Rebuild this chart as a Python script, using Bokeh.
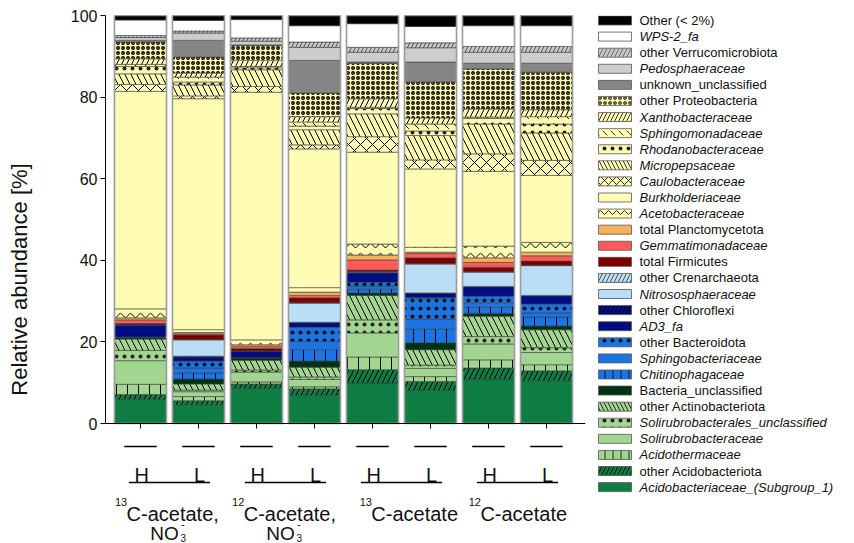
import numpy as np
from bokeh.plotting import figure
from bokeh.models import ColumnDataSource, Range1d, FixedTicker
from bokeh.layouts import row
from bokeh.embed import file_html
from bokeh.resources import INLINE
from bokeh.core.properties import value, field

# ---------------- data ----------------
bar_x = [1, 2, 3, 4, 5, 6, 7, 8]
fraction_labels = ["H", "L", "H", "L", "H", "L", "H", "L"]
group_sup = ["13", "12", "13", "12"]
group_main = ["C-acetate,", "C-acetate,", "C-acetate", "C-acetate"]
group_nitrate = [True, True, False, False]

acidobacteriaceae = [5.9, 4.6, 8.6, 6.9, 9.9, 8.1, 10.9, 10.5]
other_acidobacteriota = [1.2, 1.0, 1.1, 1.6, 3.3, 2.2, 2.7, 2.4]
acidothermaceae = [2.5, 1.0, 0.5, 0.5, 3.1, 1.2, 2.0, 1.5]
solirubrobacteraceae = [5.8, 1.2, 2.4, 1.8, 5.9, 2.0, 3.9, 3.0]
solirubrobacterales_unc = [2.5, 0.4, 0.5, 0.6, 3.2, 0.8, 1.8, 1.2]
other_actinobacteriota = [2.8, 1.5, 2.4, 2.4, 6.0, 3.8, 5.0, 4.4]
bacteria_unc = [0.4, 1.2, 0.6, 1.5, 0.6, 1.7, 0.7, 0.9]
chitinophagaceae = [0.0, 1.5, 0.0, 2.8, 1.0, 3.4, 1.6, 2.2]
sphingobacteriaceae = [0.0, 1.2, 0.0, 2.0, 0.7, 2.4, 1.0, 1.0]
other_bacteroidota = [0.1, 1.7, 0.1, 3.5, 0.9, 5.2, 1.6, 2.2]
ad3_fa = [2.9, 1.0, 1.5, 1.1, 2.3, 1.1, 2.3, 2.0]
other_chloroflexi = [0.3, 0.2, 0.1, 0.1, 0.2, 0.1, 0.1, 0.1]
nitrososphaeraceae = [0.0, 4.0, 0.0, 4.7, 0.2, 7.1, 3.5, 7.3]
other_crenarchaeota = [0.0, 0.1, 0.0, 0.1, 0.0, 0.1, 0.1, 0.1]
total_firmicutes = [0.1, 1.1, 0.6, 1.2, 0.3, 1.4, 1.1, 1.0]
gemmatimonadaceae = [0.9, 0.3, 0.5, 0.6, 2.5, 1.1, 1.2, 1.3]
total_planctomycetota = [0.5, 0.3, 0.4, 0.8, 1.2, 0.3, 1.1, 0.9]
acetobacteraceae = [2.2, 0.7, 1.2, 1.1, 2.7, 1.2, 2.9, 2.4]
burkholderiaceae = [53.3, 56.6, 60.7, 34.0, 22.5, 19.2, 18.3, 16.4]
caulobacteraceae = [1.7, 0.7, 1.4, 1.0, 3.8, 2.2, 4.3, 3.7]
micropepsaceae = [2.6, 2.7, 4.1, 3.7, 5.6, 6.0, 7.3, 6.7]
rhodanobacteraceae = [1.8, 0.7, 0.5, 0.9, 1.3, 1.1, 1.4, 2.2]
sphingomonadaceae = [0.5, 1.2, 0.3, 1.0, 0.3, 1.7, 0.3, 1.8]
xanthobacteraceae = [1.4, 1.0, 1.5, 1.3, 2.1, 1.5, 2.0, 1.7]
other_proteobacteria = [4.1, 3.9, 3.6, 5.8, 8.7, 8.8, 9.8, 9.2]
unknown_unclassified = [0.4, 4.1, 0.2, 8.0, 0.3, 4.9, 1.4, 2.2]
pedosphaeraceae = [0.7, 1.8, 0.9, 3.2, 2.4, 3.5, 2.7, 2.7]
other_verrucomicrobiota = [0.5, 0.5, 0.8, 1.3, 1.2, 1.2, 1.4, 1.4]
wps2_fa = [3.8, 2.6, 4.5, 4.0, 5.8, 4.0, 5.1, 5.1]
other_lt2 = [1.1, 1.2, 1.0, 2.5, 2.0, 2.7, 2.5, 2.5]

# (key, values, legend label, italic) bottom -> top
series = [
    ("acidobacteriaceae", acidobacteriaceae, "Acidobacteriaceae_(Subgroup_1)", True),
    ("other_acidobacteriota", other_acidobacteriota, "other Acidobacteriota", False),
    ("acidothermaceae", acidothermaceae, "Acidothermaceae", True),
    ("solirubrobacteraceae", solirubrobacteraceae, "Solirubrobacteraceae", True),
    ("solirubrobacterales_unc", solirubrobacterales_unc, "Solirubrobacterales_unclassified", True),
    ("other_actinobacteriota", other_actinobacteriota, "other Actinobacteriota", False),
    ("bacteria_unc", bacteria_unc, "Bacteria_unclassified", False),
    ("chitinophagaceae", chitinophagaceae, "Chitinophagaceae", True),
    ("sphingobacteriaceae", sphingobacteriaceae, "Sphingobacteriaceae", True),
    ("other_bacteroidota", other_bacteroidota, "other Bacteroidota", False),
    ("ad3_fa", ad3_fa, "AD3_fa", True),
    ("other_chloroflexi", other_chloroflexi, "other Chloroflexi", False),
    ("nitrososphaeraceae", nitrososphaeraceae, "Nitrososphaeraceae", True),
    ("other_crenarchaeota", other_crenarchaeota, "other Crenarchaeota", False),
    ("total_firmicutes", total_firmicutes, "total Firmicutes", False),
    ("gemmatimonadaceae", gemmatimonadaceae, "Gemmatimonadaceae", True),
    ("total_planctomycetota", total_planctomycetota, "total Planctomycetota", False),
    ("acetobacteraceae", acetobacteraceae, "Acetobacteraceae", True),
    ("burkholderiaceae", burkholderiaceae, "Burkholderiaceae", True),
    ("caulobacteraceae", caulobacteraceae, "Caulobacteraceae", True),
    ("micropepsaceae", micropepsaceae, "Micropepsaceae", True),
    ("rhodanobacteraceae", rhodanobacteraceae, "Rhodanobacteraceae", True),
    ("sphingomonadaceae", sphingomonadaceae, "Sphingomonadaceae", True),
    ("xanthobacteraceae", xanthobacteraceae, "Xanthobacteraceae", True),
    ("other_proteobacteria", other_proteobacteria, "other Proteobacteria", False),
    ("unknown_unclassified", unknown_unclassified, "unknown_unclassified", False),
    ("pedosphaeraceae", pedosphaeraceae, "Pedosphaeraceae", True),
    ("other_verrucomicrobiota", other_verrucomicrobiota, "other Verrucomicrobiota", False),
    ("wps2_fa", wps2_fa, "WPS-2_fa", True),
    ("other_lt2", other_lt2, "Other (< 2%)", False),
]

# ---------------- styles ----------------
YEL = "#fffcb4"
LGR = "#a2d58f"
DGR = "#0d7d43"
BLU = "#1c74e4"
NAV = "#000c82"
LBL = "#b9def6"
# fill, hatch, hatch_scale, hatch_weight, hatch_color
style = {
    "acidobacteriaceae": (DGR, "blank", 10, 1, "black"),
    "other_acidobacteriota": (DGR, "right_diagonal_line", 10, 1, "black"),
    "acidothermaceae": (LGR, "vertical_line", 11, 1, "black"),
    "solirubrobacteraceae": (LGR, "blank", 10, 1, "black"),
    "solirubrobacterales_unc": (LGR, "dot", 8, 0.2, "#222222"),
    "other_actinobacteriota": (LGR, "left_diagonal_line", 12, 1, "black"),
    "bacteria_unc": ("#003214", "blank", 10, 1, "black"),
    "chitinophagaceae": (BLU, "vertical_line", 11, 1, "black"),
    "sphingobacteriaceae": (BLU, "blank", 10, 1, "black"),
    "other_bacteroidota": (BLU, "dot", 8, 0.2, "#111111"),
    "ad3_fa": (NAV, "blank", 10, 1, "black"),
    "other_chloroflexi": (NAV, "right_diagonal_line", 10, 1, "black"),
    "nitrososphaeraceae": (LBL, "blank", 10, 1, "black"),
    "other_crenarchaeota": (LBL, "right_diagonal_line", 10, 1, "#333333"),
    "total_firmicutes": ("#7c0000", "blank", 10, 1, "black"),
    "gemmatimonadaceae": ("#ff5a5a", "blank", 10, 1, "black"),
    "total_planctomycetota": ("#f7b259", "blank", 10, 1, "black"),
    "acetobacteraceae": (YEL, "horizontal_wave", 10, 1, "black"),
    "burkholderiaceae": (YEL, "blank", 10, 1, "black"),
    "caulobacteraceae": (YEL, "diagonal_cross", 12, 1, "black"),
    "micropepsaceae": (YEL, "left_diagonal_line", 12, 1, "black"),
    "rhodanobacteraceae": (YEL, "dot", 8, 0.2, "#222222"),
    "sphingomonadaceae": (YEL, "left_diagonal_dash", 10, 1, "black"),
    "xanthobacteraceae": (YEL, "right_diagonal_line", 10, 1, "black"),
    "other_proteobacteria": (YEL, "ring", 5, 1.3, "black"),
    "unknown_unclassified": ("#858585", "blank", 10, 1, "black"),
    "pedosphaeraceae": ("#cdcdcd", "blank", 10, 1, "black"),
    "other_verrucomicrobiota": ("#c8c8c8", "right_diagonal_line", 8, 1, "#555555"),
    "wps2_fa": ("#ffffff", "blank", 10, 1, "black"),
    "other_lt2": ("#000000", "blank", 10, 1, "black"),
}

FONT = value("Liberation Sans")
TXT = "#111111"
keys = [s[0] for s in series]
data = dict(x=bar_x)
for k, vals, _, _ in series:
    data[k] = vals
src = ColumnDataSource(data)
totals = list(np.sum([s[1] for s in series], axis=0))

BW = 0.897
PX = 4.08            # screen pixels per percent on the y scale
AXIS_SY = 423        # screen y of the 0 % line
TOP = 15


def below(sy):
    """data y for a screen row below the bars (annotation area)"""
    return (AXIS_SY - sy) / PX


# ---------------- main plot (bars + x annotation area) ----------------
xr = Range1d(0.397, 8.672)
p = figure(width=592, height=543, x_range=xr, y_range=Range1d(below(543), 100),
           output_backend="svg", toolbar_location=None, x_axis_location=None,
           min_border_left=105, min_border_right=7, min_border_top=TOP, min_border_bottom=0)
p.vbar_stack(keys, x="x", width=BW, source=src,
             fill_color=[style[k][0] for k in keys],
             hatch_pattern=[style[k][1] for k in keys],
             hatch_scale=[style[k][2] for k in keys],
             hatch_weight=[style[k][3] for k in keys],
             hatch_color=[style[k][4] for k in keys],
             line_color="#404040", line_width=0.6)
p.vbar(x=bar_x, top=totals, bottom=0, width=BW, fill_color=None,
       line_color="#9c9c9c", line_width=1.6)

p.grid.visible = False
p.outline_line_color = None
p.yaxis.bounds = (0, 100)
p.yaxis.ticker = FixedTicker(ticks=[0, 20, 40, 60, 80, 100])
p.yaxis.major_tick_in = 0
p.yaxis.major_tick_out = 5
p.yaxis.minor_tick_out = 0
p.yaxis.minor_tick_in = 0
p.yaxis.axis_line_color = "black"
p.yaxis.major_label_text_font = "Liberation Sans"
p.yaxis.major_label_text_font_size = "16px"
p.yaxis.major_label_text_color = TXT
p.yaxis.major_label_standoff = 3
p.yaxis.axis_label = "Relative abundance [%]"
p.yaxis.axis_label_text_font = "Liberation Sans"
p.yaxis.axis_label_text_font_style = "normal"
p.yaxis.axis_label_text_font_size = "22px"
p.yaxis.axis_label_text_color = TXT
p.yaxis.axis_label_standoff = 36

# x axis line and tick marks at 0 %
p.segment(x0=[xr.start], y0=[0], x1=[xr.end], y1=[0], line_color="black", line_width=1)
p.segment(x0=bar_x, y0=[0] * 8, x1=bar_x, y1=[below(AXIS_SY + 5)] * 8,
          line_color="black", line_width=1)

bx = np.array(bar_x, dtype=float)
p.segment(x0=bx - 0.28, y0=[below(446)] * 8, x1=bx + 0.28, y1=[below(446)] * 8,
          line_color="black", line_width=1.3)
p.text(x=bx + 0.02, y=[below(474.5)] * 8, text=fraction_labels, text_align="center",
       text_baseline="alphabetic", text_font=FONT, text_font_size="20px", text_color=TXT)
gx = (bx[0::2] + bx[1::2]) / 2
p.segment(x0=gx - 0.7, y0=[below(482)] * 4, x1=gx + 0.7, y1=[below(482)] * 4,
          line_color="black", line_width=1.3)
left_off = np.array([-0.74, -0.72, -0.52, -0.64])
p.text(x=gx + left_off, y=[below(513.5)] * 4, text=group_main, text_align="left",
       text_baseline="alphabetic", text_font=FONT, text_font_size="20px", text_color=TXT)
p.text(x=gx + left_off + 0.01, y=[below(497)] * 4, text=group_sup, text_align="right",
       text_baseline="top", text_font=FONT, text_font_size="11px", text_color=TXT)
ng = gx[np.array(group_nitrate)]
m = len(ng)
p.text(x=ng + 0.16, y=[below(532.5)] * m, text=["NO"] * m, text_align="right",
       text_baseline="middle", text_font=FONT, text_font_size="19px", text_color=TXT)
p.text(x=ng + 0.19, y=[below(537.5)] * m, text=["3"] * m, text_align="left",
       text_baseline="middle", text_font=FONT, text_font_size="10px", text_color=TXT)
p.text(x=ng + 0.20, y=[below(523.5)] * m, text=["-"] * m, text_align="left",
       text_baseline="middle", text_font=FONT, text_font_size="11px", text_color=TXT)

# ---------------- legend (screen-like coordinates) ----------------
L = figure(width=262, height=543, x_range=Range1d(592, 854), y_range=Range1d(543, TOP),
           output_backend="svg", toolbar_location=None,
           x_axis_location=None, y_axis_location=None,
           min_border_left=0, min_border_right=0, min_border_top=TOP, min_border_bottom=0)
L.grid.visible = False
L.outline_line_color = None
rev = series[::-1]
n = len(rev)
ys = [20 + i * 16.09 for i in range(n)]
lsrc = ColumnDataSource(dict(
    y=ys,
    label=[s[2] for s in rev],
    fstyle=["italic" if s[3] else "normal" for s in rev],
    fill=[style[s[0]][0] for s in rev],
    hatch=[style[s[0]][1] for s in rev],
    hscale=[min(style[s[0]][2], 8) for s in rev],
    hweight=[style[s[0]][3] * 0.8 for s in rev],
    hcolor=[style[s[0]][4] for s in rev],
))
L.rect(x=614.5, y="y", width=33, height=9, source=lsrc, fill_color="fill",
       hatch_pattern="hatch", hatch_scale="hscale", hatch_weight="hweight", hatch_color="hcolor",
       line_color="#555555", line_width=0.8)
L.text(x=639, y="y", text="label", source=lsrc, text_font_style=field("fstyle"),
       text_baseline="middle", text_align="left", text_font=FONT, text_font_size="13px",
       text_color=TXT)

layout = row(p, L)
open("out.html", "w").write(file_html(layout, INLINE))
